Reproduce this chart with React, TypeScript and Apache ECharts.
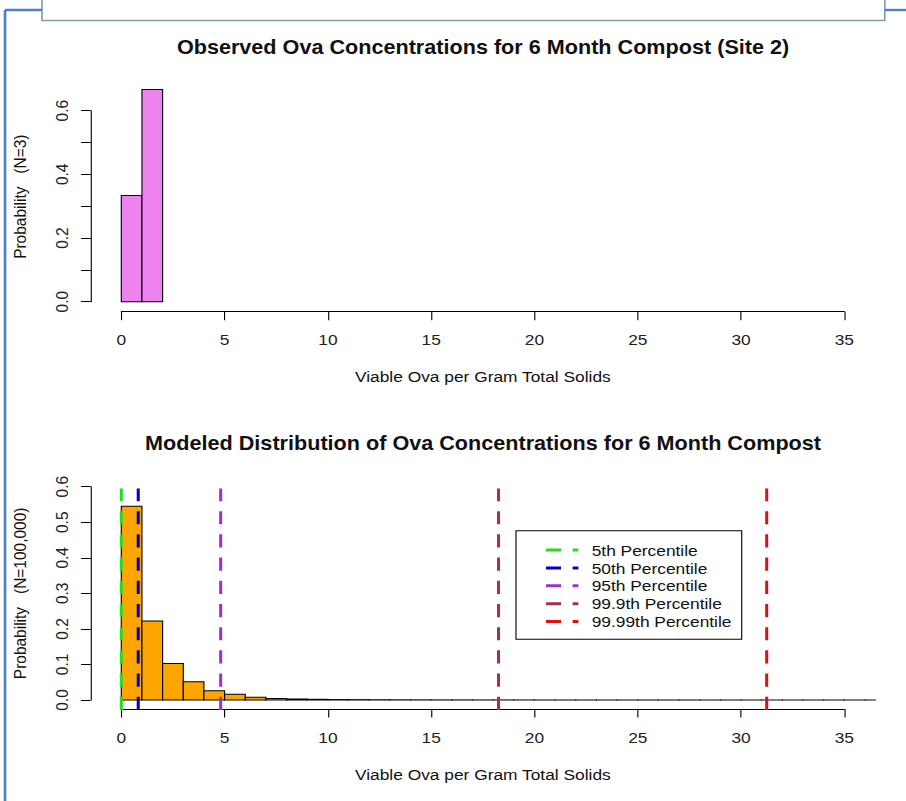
import { useEffect, useRef } from "react";
import * as echarts from "echarts";

// The figure is laid out in an unstretched frame and widened by STRETCH on screen.
const STRETCH = 1.12;
const FRAME_W = 906 / STRETCH;
const FRAME_H = 801;

const FONT = "'Liberation Sans', Arial, sans-serif";

// Observed ova concentrations, site 2 (N = 3), unit-width bins
const observedEdges = [0, 1, 2];
const observedProb = [0.3333, 0.6667];

// Modeled distribution (N = 100,000), unit-width bins up to the largest simulated value
const modeledEdges = [
  0, 1, 2, 3, 4, 5, 6, 7, 8, 9, 10, 11, 12, 13, 14, 15, 16, 17, 18, 19, 20,
  21, 22, 23, 24, 25, 26, 27, 28, 29, 30, 31, 32, 33, 34, 35, 36, 36.5,
];
const modeledProb = [
  0.545, 0.222, 0.103, 0.051, 0.026, 0.016, 0.008, 0.004, 0.003, 0.002,
  0.0012, 0.0009, 0.0007, 0.0005, 0.0004, 0.0003, 0.0003, 0.0002, 0.0002, 0.00015,
  0.0001, 0.0001, 0.00008, 0.00006, 0.00005, 0.00004, 0.00003, 0.00003, 0.00002, 0.00002,
  0.00002, 0.00001, 0.00001, 0.00001, 0.00001, 0.00001, 0.00001,
];

// Percentiles of the modeled distribution
const percentileNames = [
  "5th Percentile",
  "50th Percentile",
  "95th Percentile",
  "99.9th Percentile",
  "99.99th Percentile",
];
const percentileValues = [0, 0.82, 4.81, 18.26, 31.24];
const percentileColors = ["#22DD22", "#0000CC", "#9B30D0", "#A0305A", "#DD1111"];
// vertical reach of the percentile rules (probability units)
const RULE_SPAN = [-0.028, 0.595];

const xTitle = "Viable Ova per Gram Total Solids";

const histSeries = (
  edges: number[],
  probs: number[],
  fill: string,
  axisIndex: number,
) => ({
  type: "custom",
  xAxisIndex: axisIndex,
  yAxisIndex: axisIndex,
  clip: false,
  silent: true,
  z: 2,
  data: probs.map((p, i) => [edges[i], edges[i + 1], p]),
  encode: { x: [0, 1], y: 2 },
  renderItem: (_params: any, api: any) => {
    const lo = api.coord([api.value(0), 0]);
    const hi = api.coord([api.value(1), api.value(2)]);
    return {
      type: "rect",
      shape: { x: lo[0], y: hi[1], width: hi[0] - lo[0], height: lo[1] - hi[1] },
      style: { fill, stroke: "#000", lineWidth: 1 },
    };
  },
});

const xAxisBase = (gridIndex: number, offset: number) => ({
  type: "value",
  gridIndex,
  min: 0,
  max: 35,
  interval: 5,
  offset,
  name: xTitle,
  nameLocation: "middle",
  nameGap: 57,
  nameTextStyle: { fontFamily: FONT, fontSize: 15.5, color: "#111" },
  axisLine: { show: true, onZero: false, lineStyle: { color: "#000", width: 1 } },
  axisTick: { show: true, length: 8.5, lineStyle: { color: "#000", width: 1 } },
  axisLabel: { margin: 20, fontFamily: FONT, fontSize: 15.5, color: "#222" },
  splitLine: { show: false },
});

const yAxisBase = (gridIndex: number, name: string, everyOther: boolean, namePad: number) => ({
  type: "value",
  gridIndex,
  min: 0,
  max: 0.6,
  interval: 0.1,
  offset: 27.3,
  name,
  nameLocation: "middle",
  nameGap: 55,
  nameTextStyle: {
    fontFamily: FONT,
    fontSize: 15.5,
    color: "#111",
    padding: [0, 0, 0, namePad],
  },
  axisLine: { show: true, onZero: false, lineStyle: { color: "#000", width: 1 } },
  axisTick: { show: true, length: 8.7, lineStyle: { color: "#000", width: 1 } },
  axisLabel: {
    rotate: 90,
    margin: 18,
    fontFamily: FONT,
    fontSize: 15.5,
    color: "#222",
    formatter: (v: number) =>
      everyOther && Math.round(v * 10) % 2 !== 0 ? "" : v.toFixed(1),
  },
  splitLine: { show: false },
});

export default function App() {
  const ref = useRef<HTMLDivElement>(null);

  useEffect(() => {
    if (!ref.current) return;
    const chart = echarts.init(ref.current, null, { renderer: "svg" });

    const ruleSeries = percentileValues.map((v, i) => ({
      type: "line",
      name: percentileNames[i],
      xAxisIndex: 1,
      yAxisIndex: 1,
      clip: false,
      silent: true,
      symbol: "none",
      z: 5,
      data: [
        [v, RULE_SPAN[0]],
        [v, RULE_SPAN[1]],
      ],
      itemStyle: { color: percentileColors[i] },
      lineStyle: { color: percentileColors[i], width: 2.7, type: [13.2, 10] },
    }));

    const titleStyle = { fontFamily: FONT, fontWeight: "bold", fontSize: 19.3, color: "#111" };

    chart.setOption({
      animation: false,
      backgroundColor: "#fff",
      title: [
        {
          text: "Observed Ova Concentrations for 6 Month Compost (Site 2)",
          left: 431.3,
          top: 37.2,
          padding: 0,
          textAlign: "center",
          textStyle: titleStyle,
        },
        {
          text: "Modeled Distribution of Ova Concentrations for 6 Month Compost",
          left: 431.3,
          top: 433.2,
          padding: 0,
          textAlign: "center",
          textStyle: titleStyle,
        },
      ],
      legend: {
        orient: "vertical",
        left: 460.7,
        top: 530.7,
        align: "left",
        padding: [10.35, 9, 8.65, 25.3],
        itemWidth: 35.8,
        itemHeight: 14,
        itemGap: 0,
        backgroundColor: "#fff",
        borderColor: "#000",
        borderWidth: 1,
        borderRadius: 0,
        selectedMode: false,
        data: percentileNames,
        itemStyle: { opacity: 0 },
        lineStyle: { width: 3, type: [13.4, 10.4, 5.1, 40] },
        textStyle: { fontFamily: FONT, fontSize: 15.5, color: "#111", lineHeight: 17.9 },
      },
      grid: [
        { left: 108.3, right: 55.1, top: 110.7, bottom: 499.3 },
        { left: 108.3, right: 55.1, top: 486.7, bottom: 101 },
      ],
      xAxis: [xAxisBase(0, 10), xAxisBase(1, 9)],
      yAxis: [
        yAxisBase(0, "Probability   (N=3)", true, 19),
        yAxisBase(1, "Probability   (N=100,000)", false, 0),
      ],
      graphic: [
        {
          type: "rect",
          shape: { x: 37.5, y: -4, width: 752.5, height: 24.5 },
          style: { fill: "#fff", stroke: "#7F9DB9", lineWidth: 1.5 },
        },
        {
          type: "line",
          shape: { x1: 4.5, y1: 10, x2: 4.5, y2: 801 },
          style: { stroke: "#4F81BD", lineWidth: 2.4 },
        },
        {
          type: "line",
          shape: { x1: 4.5, y1: 10, x2: 37.5, y2: 10 },
          style: { stroke: "#4F81BD", lineWidth: 2.4 },
        },
        {
          type: "line",
          shape: { x1: 790, y1: 10, x2: FRAME_W, y2: 10 },
          style: { stroke: "#4F81BD", lineWidth: 2.4 },
        },
      ],
      series: [
        histSeries(observedEdges, observedProb, "#EE82EE", 0),
        histSeries(modeledEdges, modeledProb, "#FFA500", 1),
        ...ruleSeries,
      ],
    });

    return () => chart.dispose();
  }, []);

  return (
    <div
      ref={ref}
      style={{
        position: "fixed",
        left: 0,
        top: 0,
        width: FRAME_W,
        height: FRAME_H,
        transform: `scaleX(${STRETCH})`,
        transformOrigin: "left top",
        background: "#fff",
      }}
    />
  );
}
